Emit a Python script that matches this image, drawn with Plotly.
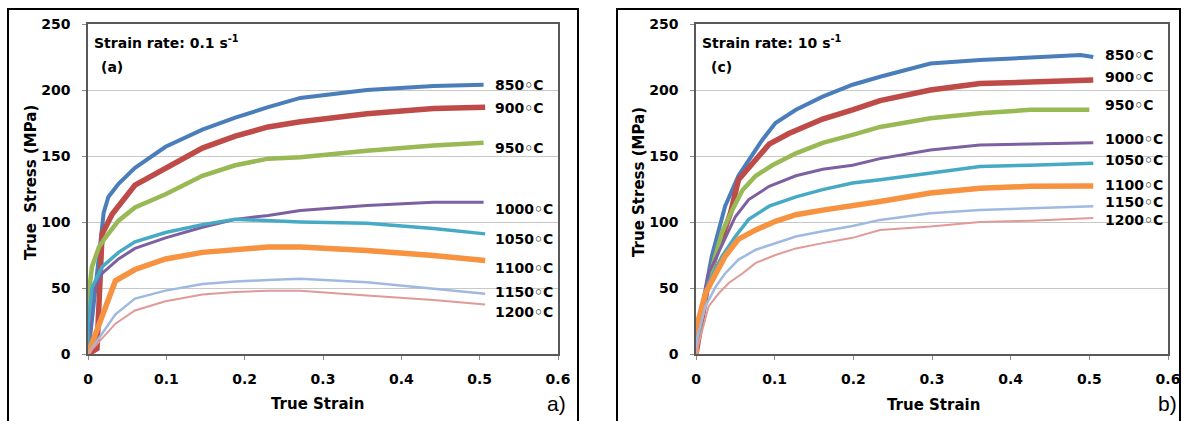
import plotly.graph_objects as go

W, H = 1183, 421

# ---------------- data ----------------
temps = ["850", "900", "950", "1000", "1050", "1100", "1150", "1200"]

# Panel a) strain rate 0.1 s^-1
a_850_x = [0, 0.004, 0.02, 0.026, 0.039, 0.06, 0.099, 0.146, 0.188, 0.23, 0.271, 0.356, 0.441, 0.505]
a_850_y = [0, 20, 107, 119, 129, 141, 157, 170, 179, 187, 194, 200, 203, 204]
a_900_x = [0, 0.0115, 0.018, 0.031, 0.06, 0.099, 0.146, 0.188, 0.23, 0.271, 0.356, 0.441, 0.507]
a_900_y = [0, 4, 91, 106, 128, 141, 156, 165, 172, 176, 182, 186, 187]
a_950_x = [0, 0.001, 0.005, 0.014, 0.022, 0.039, 0.06, 0.099, 0.146, 0.188, 0.23, 0.271, 0.356, 0.441, 0.505]
a_950_y = [0, 45, 66, 81, 88, 101, 111, 121, 135, 143, 148, 149, 154, 158, 160]
a_1000_x = [0, 0.005, 0.018, 0.039, 0.06, 0.099, 0.146, 0.188, 0.23, 0.271, 0.356, 0.441, 0.505]
a_1000_y = [0, 45, 61, 72, 80, 88, 96, 102, 105, 108.7, 112.5, 115, 115]
a_1050_x = [0, 0.0, 0.005, 0.018, 0.039, 0.06, 0.099, 0.146, 0.188, 0.23, 0.271, 0.356, 0.441, 0.507]
a_1050_y = [0, 20, 50, 66, 77, 85, 92, 98, 102, 101, 100, 99, 95, 91]
a_1100_x = [0, 0.035, 0.06, 0.099, 0.146, 0.188, 0.23, 0.271, 0.356, 0.441, 0.507]
a_1100_y = [0, 55.5, 64, 72, 77, 79.5, 81, 81, 78.4, 74.6, 70.8]
a_1150_x = [0, 0.035, 0.06, 0.099, 0.146, 0.188, 0.23, 0.271, 0.356, 0.441, 0.507]
a_1150_y = [0, 30, 42, 48, 53, 55, 56, 57, 54.4, 49.4, 45.6]
a_1200_x = [0, 0.035, 0.06, 0.099, 0.146, 0.188, 0.23, 0.271, 0.356, 0.441, 0.507]
a_1200_y = [0, 23, 33, 40, 45, 47, 48, 48, 44.3, 41, 37.5]

# Panel b) strain rate 10 s^-1
b_850_x = [0, 0.008, 0.02, 0.037, 0.054, 0.067, 0.084, 0.101, 0.127, 0.161, 0.199, 0.234, 0.298, 0.361, 0.425, 0.489, 0.505]
b_850_y = [0, 36, 74, 112, 135, 147, 162, 175, 185, 195, 204, 210, 220, 222.7, 224.7, 226.5, 225]
b_900_x = [0, 0.003, 0.01, 0.016, 0.025, 0.033, 0.044, 0.054, 0.076, 0.093, 0.118, 0.161, 0.199, 0.234, 0.298, 0.361, 0.425, 0.505]
b_900_y = [0, 11, 31, 56, 74, 89, 107, 132, 148, 159, 167, 178, 185, 192, 200, 205, 206, 207.6]
b_950_x = [0, 0.003, 0.016, 0.033, 0.046, 0.059, 0.076, 0.097, 0.127, 0.161, 0.199, 0.234, 0.298, 0.361, 0.425, 0.5]
b_950_y = [0, 16, 56, 92, 109, 124, 135, 143, 152, 160, 166, 172, 178.6, 182.4, 185, 185]
b_1000_x = [0, 0.003, 0.016, 0.033, 0.05, 0.067, 0.093, 0.127, 0.161, 0.199, 0.234, 0.298, 0.361, 0.425, 0.505]
b_1000_y = [0, 16, 61, 82, 104, 117, 127, 135, 140, 143, 148, 154.6, 158.4, 159, 160]
b_1050_x = [0, 0.003, 0.016, 0.033, 0.05, 0.067, 0.093, 0.127, 0.161, 0.199, 0.234, 0.298, 0.361, 0.425, 0.505]
b_1050_y = [0, 16, 54, 74, 89, 102, 112, 119, 124.5, 129.5, 132, 137, 142, 143, 144.5]
b_1100_x = [0, 0.001, 0.012, 0.025, 0.037, 0.054, 0.076, 0.101, 0.127, 0.161, 0.199, 0.234, 0.298, 0.361, 0.425, 0.505]
b_1100_y = [0, 21, 46, 61, 74, 87, 94, 100.5, 105.5, 109, 112, 115.5, 122, 125.6, 127, 127.3]
b_1150_x = [0, 0.001, 0.012, 0.025, 0.037, 0.054, 0.076, 0.101, 0.127, 0.161, 0.199, 0.234, 0.298, 0.361, 0.425, 0.505]
b_1150_y = [0, 11, 36, 51, 61, 71.5, 79, 84, 89, 93, 97, 101.6, 106.7, 109, 110.5, 112]
b_1200_x = [0, 0.001, 0.008, 0.016, 0.029, 0.042, 0.059, 0.076, 0.101, 0.127, 0.161, 0.199, 0.234, 0.298, 0.361, 0.425, 0.505]
b_1200_y = [0, 3, 18, 36, 46, 54, 61, 69, 75, 80, 84, 88, 94, 96.5, 100, 101, 103]

# label positions (stress at which the temperature labels sit)
a_label_y = [204, 186, 156.4, 110.2, 87.5, 64.8, 46.6, 32.2]
b_label_y = [226.5, 209.8, 188.6, 163, 147, 128, 115, 101.6]

x_ticks = [0, 0.1, 0.2, 0.3, 0.4, 0.5, 0.6]
y_ticks = [0, 50, 100, 150, 200, 250]

# ---------------- styles ----------------
colors = ["#4A7EBB", "#BE4B48", "#98B954", "#7D60A0", "#46AAC5", "#F69240", "#9FB9E0", "#E09A98"]
widths = [4, 5.5, 4.5, 3, 3.5, 5.5, 2.5, 2]

a_series = [(a_850_x, a_850_y), (a_900_x, a_900_y), (a_950_x, a_950_y), (a_1000_x, a_1000_y),
            (a_1050_x, a_1050_y), (a_1100_x, a_1100_y), (a_1150_x, a_1150_y), (a_1200_x, a_1200_y)]
b_series = [(b_850_x, b_850_y), (b_900_x, b_900_y), (b_950_x, b_950_y), (b_1000_x, b_1000_y),
            (b_1050_x, b_1050_y), (b_1100_x, b_1100_y), (b_1150_x, b_1150_y), (b_1200_x, b_1200_y)]

ARIAL = "Arial, Liberation Sans, sans-serif"
WIDE = "DejaVu Sans, Arial, sans-serif"

fig = go.Figure()
for i, (xs, ys) in enumerate(a_series):
    fig.add_trace(go.Scatter(x=xs, y=ys, mode="lines", xaxis="x", yaxis="y",
                             line=dict(color=colors[i], width=widths[i]), showlegend=False,
                             name=temps[i] + "°C"))
for i, (xs, ys) in enumerate(b_series):
    fig.add_trace(go.Scatter(x=xs, y=ys, mode="lines", xaxis="x2", yaxis="y2",
                             line=dict(color=colors[i], width=widths[i]), showlegend=False,
                             name=temps[i] + "°C"))


def px(x):
    return x / W


def py(y):
    return 1 - y / H


axis_common = dict(
    showline=True, mirror=True, linecolor="#595959", linewidth=1.5,
    ticks="outside", ticklen=4, tickcolor="#8c8c8c",
    tickfont=dict(family=WIDE, size=14, color="black", weight="bold"),
    zeroline=False, automargin=False,
)

xd_a = [px(88), px(558)]
xd_b = [px(696), px(1168)]
yd = [py(354), py(24)]

fig.update_layout(
    template="none",
    width=W, height=H,
    margin=dict(l=0, r=0, t=0, b=0, pad=0),
    paper_bgcolor="white", plot_bgcolor="white",
    xaxis=dict(domain=xd_a, range=[0, 0.6], tickvals=x_ticks, ticktext=[str(v) for v in x_ticks],
               showgrid=False, anchor="y", ticklabelstandoff=7, **axis_common),
    yaxis=dict(domain=yd, range=[0, 250], tickvals=y_ticks, showgrid=True, gridcolor="#C8C8C8",
               gridwidth=1, anchor="x", ticklabelstandoff=9, **axis_common),
    xaxis2=dict(domain=xd_b, range=[0, 0.6], tickvals=x_ticks, ticktext=[str(v) for v in x_ticks],
                showgrid=False, anchor="y2", ticklabelstandoff=7, **axis_common),
    yaxis2=dict(domain=yd, range=[0, 250], tickvals=y_ticks, showgrid=True, gridcolor="#C8C8C8",
                gridwidth=1, anchor="x2", ticklabelstandoff=9, **axis_common),
    font=dict(family=ARIAL, color="black"),
)

ann = []
lab = dict(family=WIDE, size=14, color="black", weight="bold")
for i, t in enumerate(temps):
    ann.append(dict(x=0.517, y=a_label_y[i], xref="x", yref="y", text=t + "\u25e6C",
                    showarrow=False, xanchor="left", yanchor="middle", font=lab))
    ann.append(dict(x=0.517, y=b_label_y[i], xref="x2", yref="y2", text=t + "\u25e6C",
                    showarrow=False, xanchor="left", yanchor="middle", font=lab))

head = dict(family=WIDE, size=14, color="black", weight="bold")
title = dict(family=WIDE, size=15, color="black", weight="bold")
ytitle = dict(family=WIDE, size=15, color="black", weight="bold")
ann += [
    dict(x=px(92), y=py(42), xref="paper", yref="paper", text="Strain rate: 0.1 s<sup>-1</sup>",
         showarrow=False, xanchor="left", yanchor="middle", font=head),
    dict(x=px(99), y=py(67), xref="paper", yref="paper", text="(a)",
         showarrow=False, xanchor="left", yanchor="middle", font=head),
    dict(x=px(700), y=py(42), xref="paper", yref="paper", text="Strain rate: 10 s<sup>-1</sup>",
         showarrow=False, xanchor="left", yanchor="middle", font=head),
    dict(x=px(709), y=py(67), xref="paper", yref="paper", text="(c)",
         showarrow=False, xanchor="left", yanchor="middle", font=head),
    dict(x=px(317), y=py(404), xref="paper", yref="paper", text="True Strain",
         showarrow=False, xanchor="center", yanchor="middle", font=title),
    dict(x=px(933), y=py(405), xref="paper", yref="paper", text="True Strain",
         showarrow=False, xanchor="center", yanchor="middle", font=title),
    dict(x=px(31), y=py(183), xref="paper", yref="paper", text="True  Stress (MPa)", textangle=-90,
         showarrow=False, xanchor="center", yanchor="middle", font=ytitle),
    dict(x=px(639), y=py(182), xref="paper", yref="paper", text="True Stress (MPa)", textangle=-90,
         showarrow=False, xanchor="center", yanchor="middle", font=ytitle),
    dict(x=px(556), y=py(403), xref="paper", yref="paper", text="a)",
         showarrow=False, xanchor="center", yanchor="middle", font=dict(family=ARIAL, size=21, color="black")),
    dict(x=px(1167), y=py(403), xref="paper", yref="paper", text="b)",
         showarrow=False, xanchor="center", yanchor="middle", font=dict(family=ARIAL, size=21, color="black")),
]
fig.update_layout(annotations=ann)

fig.update_layout(shapes=[
    dict(type="rect", xref="paper", yref="paper", x0=px(8), x1=px(578), y0=-0.05, y1=py(9),
         line=dict(color="black", width=2), fillcolor="rgba(0,0,0,0)"),
    dict(type="rect", xref="paper", yref="paper", x0=px(617), x1=px(1180), y0=-0.05, y1=py(9),
         line=dict(color="black", width=2), fillcolor="rgba(0,0,0,0)"),
])

fig.write_html("out.html", config={"displayModeBar": False},
               post_script="document.body.style.margin='0';document.body.style.overflow='hidden';")
